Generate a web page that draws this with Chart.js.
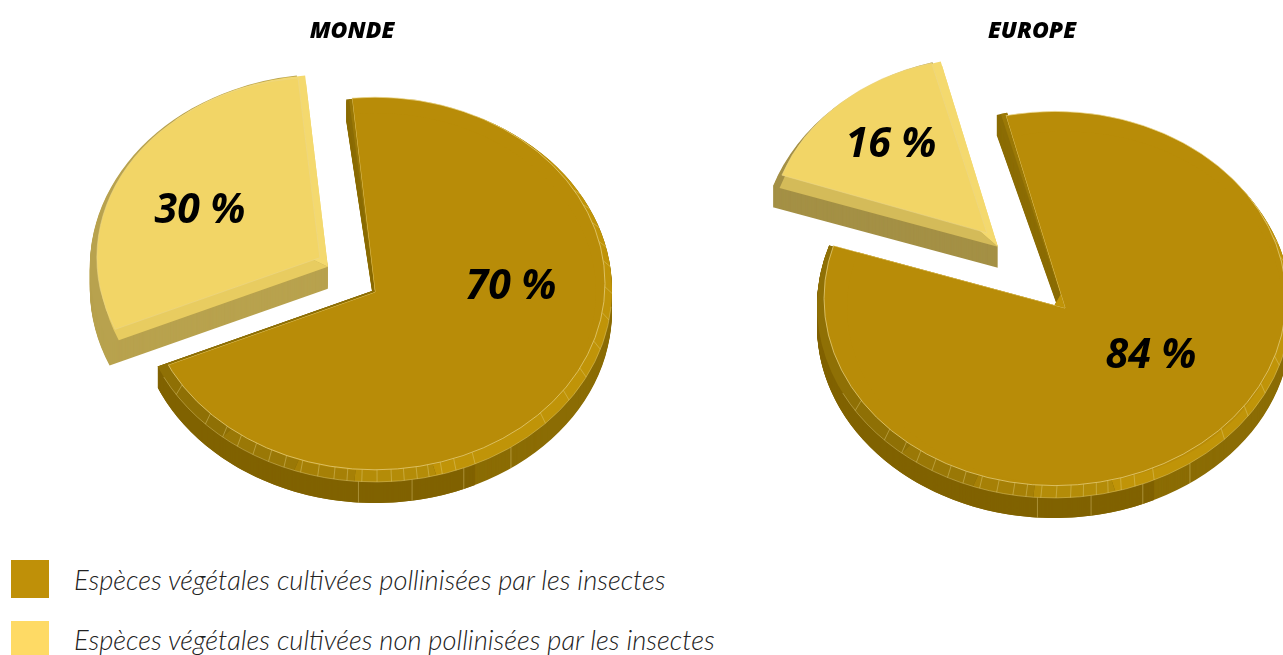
<!DOCTYPE html>
<html lang="fr">
<head>
<meta charset="utf-8">
<title>Pollinisation</title>
<script src="https://cdn.jsdelivr.net/npm/chart.js@4"></script>
<style>
    html, body { margin: 0; height: 100%; background: #fff; overflow: hidden; }
    canvas { position: absolute; top: 0; }
    #monde { left: 0; }
    #europe { left: 680px; }
    .legende { position: absolute; left: 74px; font: italic 300 27.3px Lato, sans-serif; color: #222; white-space: nowrap; }
    .case { position: absolute; left: 11px; width: 38px; height: 38px; }
</style>
</head>
<body>
<canvas id="monde" width="704" height="560"></canvas>
<canvas id="europe" width="704" height="560"></canvas>

<script>
// --- DATA ---
const categories = [
    'Espèces végétales cultivées pollinisées par les insectes',
    'Espèces végétales cultivées non pollinisées par les insectes'
];
const legendColors = ['#BF9008', '#FEDA65'];
const mondeValues = [70, 30];
const europeValues = [84, 16];

// faux 3D: angles in degrees clockwise from the top
const rimTicks = [60, 65, 71, 77, 83, 91, 99, 108, 117, 125, 134, 155, 160, 163.5, 166.8, 169.7, 172.9, 176, 179.5,
    183.2, 186.8, 190, 194, 198.3, 202.6, 206.7, 211, 215.5, 220, 225.7, 237];
const depthTicks = [145, 158, 171, 184];

const GOLD = '#B88C08', GOLD_RIM = '#C09408', GOLD_DARK = '#8B6C04', GOLD_DARKER = '#806200', YELLOW = '#F2D566';

// the rim of the big slice gets darker towards the left
const rimLayers = (r, dx, dy) => [
    { r, dx, dy, color: GOLD_RIM, from: 25, to: 165 },
    { r, dx, dy, color: '#B48C08', from: 165, to: 185 },
    { r, dx, dy, color: '#A68006', from: 185, to: 200 },
    { r, dx, dy, color: '#9A7806', from: 200, to: 220 },
    { r, dx, dy, color: '#8F7005', from: 220 }
];

const mondeLook = {
    center: [375, 292], tilt: 0.81, rotation: -5.5, offset: [0, 256], radius: [221, 223], nudge: [0, -8],
    labels: [[136, -5], [-175, -81]],
    face: { r: 230, dx: 0, dy: -8.5 },
    rim: { r: 237, dx: 0, dy: -2, depth: 21 },
    layers: [
        [
            { r: 237, dy: -2, depth: 21, color: GOLD_DARK, a0: -1.5, to: -5 },
            { r: 237, dy: -2, color: '#9A7806', a0: -0.8, to: -5 },
            { r: 237, dy: -2, depth: 21, color: GOLD_DARK, from: 25 },
            { r: 237, dy: -2, depth: 21, color: GOLD_DARKER, from: 155 },
            ...rimLayers(237, 0, -2)
        ],
        [
            { r: 238, dx: 8, dy: 9, depth: 22, color: '#B8A24E', a1: -2 },
            { r: 228, dx: 8, dy: 9, color: '#E8CC60', from: 246.5, to: 300.5 },
            { r: 228, dx: 8, dy: 9, color: '#F4D96E', from: 300.5 },
            { r: 237, dx: 8, dy: 9, color: '#F4D96E', from: 320 }
        ]
    ]
};
const europeLook = {
    center: [385, 308], tilt: 0.81, rotation: -14, offset: [0, 472], radius: [218, 217], nudge: [2, -5],
    labels: [[86, 48], [-174, -163]],
    face: { r: 231, dx: -10, dy: -9.5 },
    rim: { r: 237, dx: -11, dy: -2, depth: 20 },
    layers: [
        [
            { r: 248, depth: 20, color: GOLD_DARK, a0: -2, to: -13.5 },
            { r: 248, color: '#9A7806', a0: -1, to: -13.5 },
            { r: 237, dx: -11, dy: -2, depth: 20, color: GOLD_DARK, from: 25 },
            { r: 237, dx: -11, dy: -2, depth: 20, color: GOLD_DARKER, from: 155 },
            ...rimLayers(237, -11, -2)
        ],
        [
            { r: 237, dx: 11, dy: 14, depth: 21, color: '#A49045', a1: -2 },
            { r: 230, dx: 11, dy: 14, color: '#D4BB59', from: 288.4, to: 317 },
            { r: 230, dx: 11, dy: 14, color: '#F4D96E', from: 317 },
            { r: 236, dx: 11, dy: 14, color: '#F4D96E', from: 328 }
        ]
    ]
};

const rad = d => d * Math.PI / 180;

function wedge(ctx, x, y, r, a0, a1) {
    ctx.beginPath();
    ctx.moveTo(x, y);
    ctx.arc(x, y, r, a0, a1);
    ctx.closePath();
    ctx.fill();
}

// limits drawing to the sector of the big slice
function clipSector(ctx, arc) {
    ctx.beginPath();
    ctx.moveTo(arc.x, arc.y);
    ctx.arc(arc.x, arc.y, 1000, arc.startAngle, arc.endAngle);
    ctx.closePath();
    ctx.clip();
}

// tilts the pie and draws the sides under the arcs of the library
const pie3d = {
    id: 'pie3d',
    beforeDatasetsDraw(chart, args, look) {
        const ctx = chart.ctx;
        const arcs = chart.getDatasetMeta(0).data;
        const k = look.tilt;
        ctx.save();
        ctx.translate(look.center[0], look.center[1]);
        ctx.scale(1, k);
        ctx.translate(-arcs[0].x, -arcs[0].y);

        // the loose slice sits a little off its radial line
        arcs[1].x = arcs[0].x + look.nudge[0];
        arcs[1].y = arcs[0].y + look.nudge[1] / k;

        arcs.forEach((arc, i) => {
            const off = arc.options.offset / 4;
            const mid = (arc.startAngle + arc.endAngle) / 2;
            const x = arc.x + Math.cos(mid) * off;
            const y = arc.y + Math.sin(mid) * off;
            // the library grows an offset arc, so keep it at the wanted size
            const fix = 1 - Math.sin(Math.min(Math.PI, arc.circumference));
            arc.outerRadius = look.radius[i] - off * fix;

            look.layers[i].forEach(l => {
                const a0 = l.from !== undefined ? rad(l.from - 90) : arc.startAngle + rad(l.a0 || 0);
                const a1 = l.to !== undefined ? rad(l.to - 90) : arc.endAngle + rad(l.a1 || 0);
                ctx.fillStyle = l.color;
                for (let d = l.depth || 0; d >= 0; d--) {
                    wedge(ctx, x + (l.dx || 0), y + ((l.dy || 0) + d) / k, l.r, a0, a1);
                }
            });
        });

        // top face of the big slice: its ellipse is not centred on the apex
        const f = look.face;
        ctx.save();
        clipSector(ctx, arcs[0]);
        ctx.fillStyle = GOLD;
        ctx.beginPath();
        ctx.arc(arcs[0].x + f.dx, arcs[0].y + f.dy / k, f.r, 0, Math.PI * 2);
        ctx.fill();
        ctx.restore();
    },
    afterDatasetsDraw(chart, args, look) {
        const ctx = chart.ctx;
        const arc = chart.getDatasetMeta(0).data[0];
        const k = look.tilt, f = look.face, rim = look.rim;

        // light outline of the top face
        ctx.save();
        clipSector(ctx, arc);
        ctx.strokeStyle = 'rgba(235, 215, 140, 0.75)';
        ctx.lineWidth = 1;
        ctx.beginPath();
        ctx.arc(arc.x + f.dx, arc.y + f.dy / k, f.r, 0, Math.PI * 2);
        ctx.stroke();
        ctx.clip();
        ctx.beginPath();
        ctx.moveTo(arc.x + 1000 * Math.cos(arc.endAngle), arc.y + 1000 * Math.sin(arc.endAngle));
        ctx.lineTo(arc.x, arc.y);
        ctx.lineTo(arc.x + 1000 * Math.cos(arc.startAngle), arc.y + 1000 * Math.sin(arc.startAngle));
        ctx.stroke();
        ctx.restore();

        ctx.restore();
        const [cx, cy] = look.center;

        // light seams on the rim and the side
        ctx.strokeStyle = 'rgba(225, 205, 125, 0.55)';
        ctx.lineWidth = 0.8;
        const pt = (deg, r, dx, dy) => [cx + dx + r * Math.sin(rad(deg)), cy + dy - k * r * Math.cos(rad(deg))];
        rimTicks.forEach(t => {
            ctx.beginPath();
            ctx.moveTo(...pt(t, f.r, f.dx, f.dy));
            ctx.lineTo(...pt(t, rim.r, rim.dx, rim.dy));
            ctx.stroke();
        });
        depthTicks.forEach(t => {
            ctx.beginPath();
            ctx.moveTo(...pt(t, rim.r, rim.dx, rim.dy));
            ctx.lineTo(...pt(t, rim.r, rim.dx, rim.dy + rim.depth));
            ctx.stroke();
        });
        ctx.beginPath();
        ctx.ellipse(cx + rim.dx, cy + rim.dy, rim.r, k * rim.r, 0, rad(95 - 90), rad(243 - 90));
        ctx.stroke();

        // percent labels
        ctx.fillStyle = '#000';
        ctx.font = 'italic 700 41px "Open Sans", sans-serif';
        ctx.textAlign = 'center';
        ctx.textBaseline = 'middle';
        chart.data.datasets[0].data.forEach((v, i) => {
            ctx.fillText(v + ' %', cx + look.labels[i][0], cy + look.labels[i][1]);
        });
    }
};

function makePie(id, title, values, look) {
    return new Chart(document.getElementById(id), {
        type: 'pie',
        data: {
            labels: categories,
            datasets: [{
                data: values,
                backgroundColor: [GOLD, YELLOW],
                borderColor: 'rgba(235, 215, 140, 0.75)',
                borderWidth: [0, 0.8],
                offset: look.offset,
                clip: false
            }]
        },
        options: {
            responsive: false,
            animation: false,
            events: [],
            rotation: look.rotation,
            radius: look.radius[0],
            plugins: {
                legend: { display: false },
                tooltip: { enabled: false },
                title: {
                    display: true,
                    text: title,
                    color: '#000',
                    font: { family: '"Open Sans", sans-serif', size: 23, style: 'italic', weight: 800 },
                    padding: { top: 18, bottom: 0 }
                },
                pie3d: look
            }
        },
        plugins: [pie3d]
    });
}

document.addEventListener('DOMContentLoaded', () => {
    makePie('monde', 'MONDE', mondeValues, mondeLook);
    makePie('europe', 'EUROPE', europeValues, europeLook);

    // legend under the pies
    const tops = [560, 621];
    const textTops = [563, 623];
    categories.forEach((cat, i) => {
        const box = document.createElement('div');
        box.className = 'case';
        box.style.top = tops[i] + 'px';
        box.style.background = legendColors[i];
        document.body.appendChild(box);

        const txt = document.createElement('div');
        txt.className = 'legende';
        txt.style.top = textTops[i] + 'px';
        txt.textContent = cat;
        document.body.appendChild(txt);
    });
});
</script>
</body>
</html>
